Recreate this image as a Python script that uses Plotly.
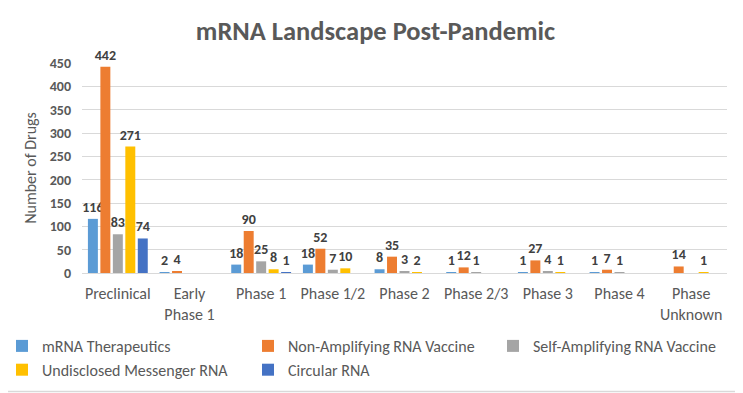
import plotly.graph_objects as go

categories = ["Preclinical", "Early<br>Phase 1", "Phase 1", "Phase 1/2", "Phase 2",
              "Phase 2/3", "Phase 3", "Phase 4", "Phase<br>Unknown"]
mrna_therapeutics = [116, 2, 18, 18, 8, 1, 1, 1, None]
non_amplifying = [442, 4, 90, 52, 35, 12, 27, 7, 14]
self_amplifying = [83, None, 25, 7, 3, 1, 4, 1, None]
undisclosed = [271, None, 8, 10, 2, None, 1, None, 1]
circular = [74, None, 1, None, None, None, None, None, None]

series = [
    ("mRNA Therapeutics", mrna_therapeutics, "#5B9BD5", "legend"),
    ("Non-Amplifying RNA Vaccine", non_amplifying, "#ED7D31", "legend2"),
    ("Self-Amplifying RNA Vaccine", self_amplifying, "#A5A5A5", "legend3"),
    ("Undisclosed Messenger RNA", undisclosed, "#FFC000", "legend"),
    ("Circular RNA", circular, "#4472C4", "legend2"),
]

FONT = "Carlito, Calibri, Lato, sans-serif"
GRAY = "#595959"

# figure is drawn with the page's 8px body offset taken into account
W, H = 735, 385
L, R, T, B = 74, 16, 55, 120
PW, PH = W - L - R, H - T - B


def px_x(x):
    return (x - L) / PW


def px_y(y):
    return (H - B - y) / PH


fig = go.Figure()
for name, vals, col, leg in series:
    fig.add_trace(go.Bar(
        name=name, x=categories, y=vals, marker_color=col,
        marker_line_width=0, legend=leg,
        text=[("" if v is None else str(v)) for v in vals],
        textposition="outside", textangle=0, cliponaxis=False,
        constraintext="none",
        textfont=dict(family=FONT, size=14, color="#404040", weight="bold"),
    ))

legend_common = dict(orientation="v", xanchor="left", yanchor="top",
                     font=dict(family=FONT, size=16, color=GRAY),
                     itemwidth=30, tracegroupgap=0, bgcolor="rgba(0,0,0,0)",
                     traceorder="normal", y=px_y(321))

fig.update_layout(
    width=W, height=H,
    margin=dict(l=L, r=R, t=T, b=B, autoexpand=False),
    paper_bgcolor="white", plot_bgcolor="white",
    barmode="group", bargap=0.13, bargroupgap=0.2,
    title=dict(text="<b>mRNA Landscape Post-Pandemic</b>", x=0.5, xanchor="center",
               y=1 - 23 / H, yanchor="middle",
               font=dict(family=FONT, size=26.5, color=GRAY)),
    font=dict(family=FONT, color=GRAY),
    showlegend=True,
    legend=dict(x=px_x(-6), **legend_common),
    legend2=dict(x=px_x(240), **legend_common),
    legend3=dict(x=px_x(485), **legend_common),
    xaxis=dict(showline=True, linecolor="#D9D9D9", linewidth=1, ticks="",
               ticklabelstandoff=6,
               tickfont=dict(family=FONT, size=16, color=GRAY)),
    yaxis=dict(range=[0, 450], dtick=50, showgrid=True, gridcolor="#D9D9D9",
               zeroline=False, showline=False, ticklabelstandoff=10,
               tickfont=dict(family=FONT, size=14, color=GRAY, weight="bold"),
               title=dict(text="Number of Drugs", standoff=9,
                          font=dict(family=FONT, size=16, color=GRAY))),
    shapes=[dict(type="rect", xref="paper", yref="paper",
                 x0=px_x(-20), x1=px_x(733.5),
                 y0=px_y(383.5), y1=px_y(-20),
                 line=dict(color="#D9D9D9", width=1.5), fillcolor="rgba(0,0,0,0)")],
)

fig.write_html("out.html")
